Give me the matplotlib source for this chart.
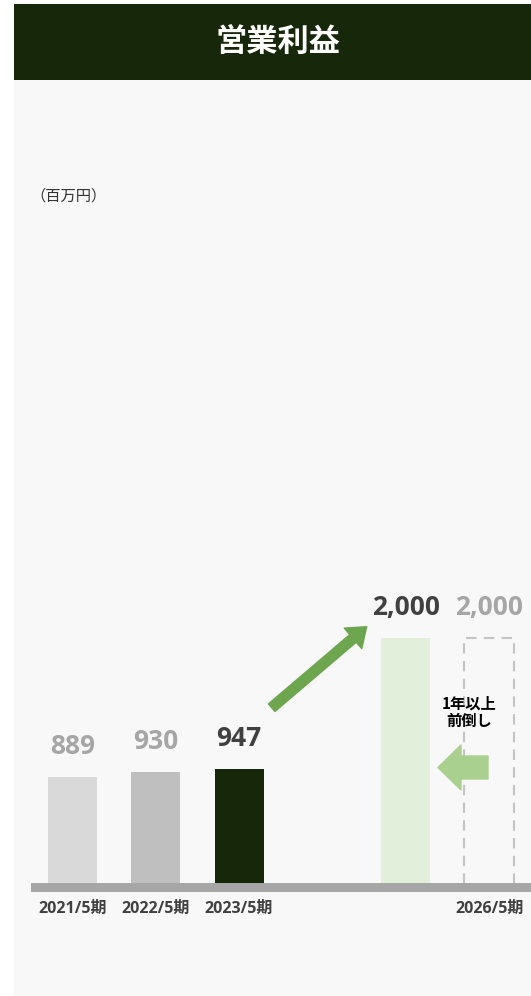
import matplotlib
matplotlib.use("Agg")
import matplotlib.pyplot as plt
from matplotlib.patches import Rectangle, FancyArrowPatch

plt.rcParams['font.family'] = ['Noto Sans CJK JP', 'DejaVu Sans']
NUM_FONT = ['Open Sans', 'Noto Sans CJK JP']

# ---- data ----
title = "営業利益"
unit_label = "（百万円）"
periods = ["2021/5期", "2022/5期", "2023/5期", "", "2026/5期"]
values = [889, 930, 947, 2000, 2000]
value_labels = ["889", "930", "947", "2,000", "2,000"]
positions = [0, 1, 2, 4, 5]
bar_colors = ["#d9d9d9", "#bfbfbf", "#17270a", "#e2efda", "none"]
label_colors = ["#a6a6a6", "#a6a6a6", "#404040", "#404040", "#a6a6a6"]
note_lines = ["1年以上", "前倒し"]

W, H = 531, 996
fig = plt.figure(figsize=(W / 100, H / 100), dpi=100)
fig.patch.set_facecolor("white")

# panel and header
fig.patches.append(Rectangle((14 / W, 0), (W - 14) / W, (H - 80) / H,
                             transform=fig.transFigure, facecolor="#f8f8f8",
                             edgecolor="none", zorder=0))
fig.patches.append(Rectangle((14 / W, 1 - 80 / H), (W - 14) / W, 76 / H,
                             transform=fig.transFigure, facecolor="#17270a",
                             edgecolor="none", zorder=0))
fig.text(278 / W, 1 - 41.5 / H, title, color="white", fontsize=22.5,
         fontweight="bold", ha="center", va="center")

# axes mapping (pixel geometry of the panel)
x0px, xstep = 72.2, 83.4
y0px, yscale = 887.4, 0.1246
ax = fig.add_axes([14 / W, 0, (W - 14) / W, (H - 80) / H])
ax.set_zorder(2)
ax.set_xlim((14 - x0px) / xstep, (W - x0px) / xstep)
ax.set_ylim(-(H - y0px) / yscale, (y0px - 80) / yscale)
ax.axis("off")

def px2x(px):
    return (px - x0px) / xstep

def px2y(py):
    return (y0px - py) / yscale

PT = 0.72  # points per pixel at dpi 100
bw = 49 / xstep
for i, (p, v, c) in enumerate(zip(positions, values, bar_colors)):
    if c == "none":
        ax.bar(p, v, width=50 / xstep, facecolor="none", edgecolor="#c4c4c4",
               linewidth=1.5, linestyle=(0, (5, 3.5)), zorder=2)
    else:
        ax.bar(p, v, width=bw, color=c, zorder=2)
    ax.annotate(value_labels[i], xy=(p, v), xytext=(0, 23 * PT),
                textcoords="offset points", ha="center", va="baseline",
                fontsize=19, fontweight="bold", color=label_colors[i],
                family=NUM_FONT)
    if periods[i]:
        ax.annotate(periods[i], xy=(p, 0), xytext=(0, -26 * PT),
                    textcoords="offset points", ha="center", va="baseline",
                    fontsize=11.5, fontweight="bold", color="#404040",
                    family=NUM_FONT)

# baseline
ax.add_patch(Rectangle((px2x(31), px2y(891.7)), px2x(W + 5) - px2x(31),
                       8.4 / yscale, facecolor="#a6a6a6", edgecolor="none",
                       zorder=3))

# unit label
ax.text(px2x(30), px2y(196), unit_label, fontsize=11, color="#333333",
        ha="left", va="center")

# growth arrow
ax.add_patch(FancyArrowPatch((px2x(271.7), px2y(707.7)), (px2x(366.7), px2y(626.7)),
                             arrowstyle=f"simple,head_length={18*PT},head_width={27*PT},tail_width={10*PT}",
                             mutation_scale=1, shrinkA=0, shrinkB=0,
                             color="#6ea54f", zorder=4))
# left arrow
ax.add_patch(FancyArrowPatch((px2x(488), px2y(767.5)), (px2x(438), px2y(767.5)),
                             arrowstyle=f"simple,head_length={23*PT},head_width={45*PT},tail_width={23*PT}",
                             mutation_scale=1, shrinkA=0, shrinkB=0,
                             color="#a9d08e", zorder=4))
for line, ypx in zip(note_lines, [703.3, 721.3]):
    ax.text(px2x(469.5), px2y(ypx), line, fontsize=11, fontweight="bold",
            color="black", ha="center", va="center", zorder=5)

fig.savefig("out.png", dpi=100, facecolor="white")
